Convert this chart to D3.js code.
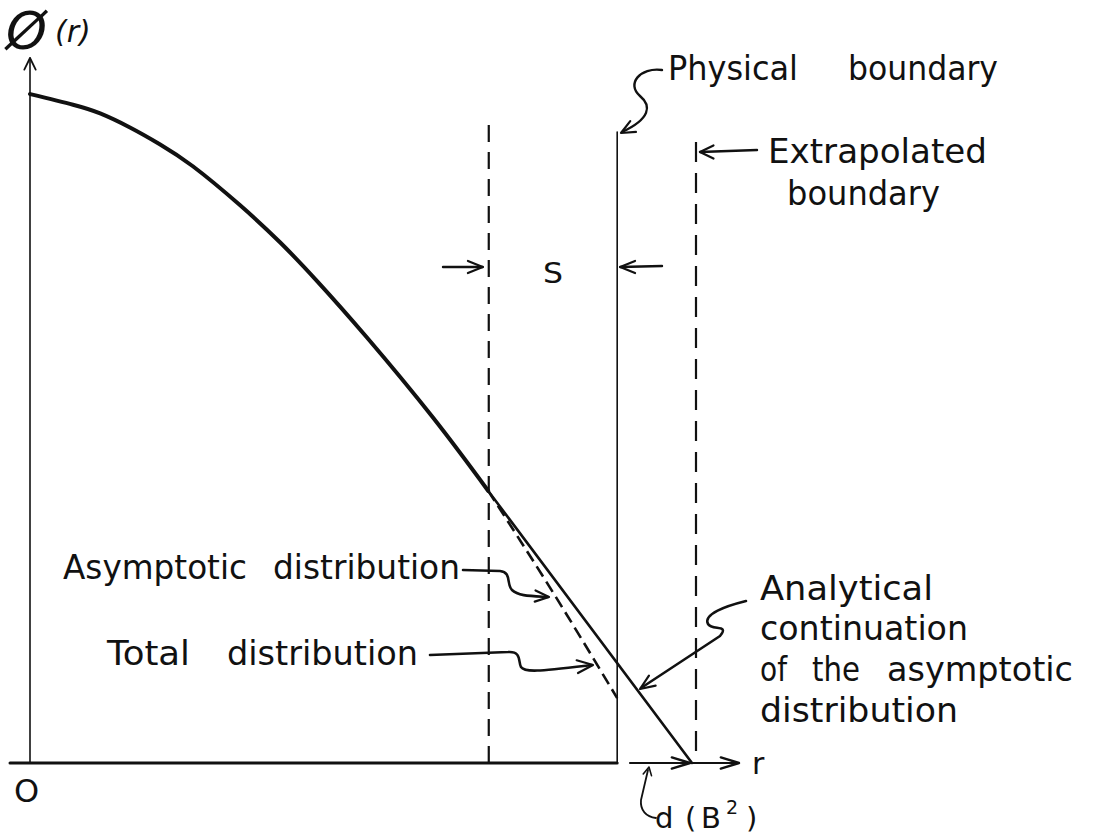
<!DOCTYPE html>
<html>
<head>
<meta charset="utf-8">
<script src="https://cdn.jsdelivr.net/npm/d3@7"></script>
<style>
  html, body { margin: 0; padding: 0; background: #fff; }
  svg { display: block; }
  text { font-family: "DejaVu Sans", sans-serif; fill: #111; }
</style>
</head>
<body>
<svg id="chart" width="1093" height="840"></svg>
<script>
// Flux shape phi(r) near a reactor boundary (normalised units, r = 1 at the extrapolated boundary)
const rCore   = [0, 0.065, 0.106, 0.151, 0.196, 0.246, 0.317, 0.378, 0.434, 0.509, 0.609, 0.692];
const phiCore = [1.0, 0.984, 0.971, 0.950, 0.925, 0.892, 0.834, 0.778, 0.720, 0.636, 0.516, 0.407];

// Asymptotic distribution continued analytically to zero at the extrapolated boundary
const rAsym   = [0.692, 1.0];
const phiAsym = [0.407, 0.0];

// Total distribution (asymptotic + transient) inside the transport layer S
const rTotal   = [0.692, 0.790, 0.887];
const phiTotal = [0.407, 0.255, 0.097];

// Radial positions of the boundaries
const rSLayer   = 0.693;   // inner edge of the transport layer S
const rPhysical = 0.887;   // physical boundary
const rExtrap   = 1.0;     // extrapolated boundary

const svg = d3.select("#chart");
const ink = "#111";

const x = d3.scaleLinear().domain([0, 1]).range([30, 692]);
const y = d3.scaleLinear().domain([0, 1]).range([763, 94]);

const line = d3.line().x(d => x(d[0])).y(d => y(d[1]));
const smooth = d3.line().x(d => x(d[0])).y(d => y(d[1])).curve(d3.curveNatural);

// open "V" arrowhead at a tip, pointing along angle (degrees)
function head(tx, ty, angle, len = 14, spread = 24, width = 2.2) {
  const a = angle * Math.PI / 180, s = spread * Math.PI / 180;
  const p1 = [tx - len * Math.cos(a - s), ty - len * Math.sin(a - s)];
  const p2 = [tx - len * Math.cos(a + s), ty - len * Math.sin(a + s)];
  svg.append("path")
    .attr("d", `M${p1[0]},${p1[1]} L${tx},${ty} L${p2[0]},${p2[1]}`)
    .attr("fill", "none").attr("stroke", ink).attr("stroke-width", width)
    .attr("stroke-linecap", "round").attr("stroke-linejoin", "round");
}
function stroke(d, width, dash) {
  const p = svg.append("path").attr("d", d).attr("fill", "none")
    .attr("stroke", ink).attr("stroke-width", width)
    .attr("stroke-linecap", "round").attr("stroke-linejoin", "round");
  if (dash) p.attr("stroke-dasharray", dash).attr("stroke-linecap", "butt");
  return p;
}

// ---- axes ----
stroke(`M${x(0)},${y(0)} L${x(0)},58`, 1.6);
head(x(0), 58, -90, 13, 26, 1.8);
stroke(`M10,${y(0)} L${x(rPhysical)},${y(0)}`, 3);
// r-axis beyond the physical boundary: d(B^2) span and r arrow
stroke(`M630,${y(0)} L${x(rExtrap) - 2},${y(0)}`, 2.2);
head(x(rExtrap) - 2, y(0), 0, 19, 17, 2.4);
stroke(`M${x(rExtrap)},${y(0)} L738,${y(0)}`, 2.2);
head(739, y(0), 0, 19, 17, 2.4);

// ---- boundaries ----
stroke(`M${x(rSLayer)},125 L${x(rSLayer)},${y(0)}`, 2.2, "17,10");
stroke(`M${x(rPhysical)},132 L${x(rPhysical)},${y(0)}`, 1.6);
stroke(`M${x(rExtrap) + 4},142 L${x(rExtrap) + 4},${y(0)}`, 2.2, "20,11");

// ---- flux curves ----
stroke(smooth(rCore.map((r, i) => [r, phiCore[i]])), 4);
stroke(line(rAsym.map((r, i) => [r, phiAsym[i]])), 2.6);
stroke(smooth(rTotal.map((r, i) => [r, phiTotal[i]])), 2.6, "12,6");

// ---- labels ----
const labels = [
  { t: "Physical",     x: 668, y: 80,  w: 130 },
  { t: "boundary",     x: 848, y: 80,  w: 150 },
  { t: "Extrapolated", x: 768, y: 163, w: 219 },
  { t: "boundary",     x: 787, y: 205, w: 153 },
  { t: "Asymptotic",   x: 63,  y: 579, w: 184 },
  { t: "distribution", x: 273, y: 579, w: 187 },
  { t: "Total",        x: 107, y: 665, w: 83 },
  { t: "distribution", x: 227, y: 665, w: 191 },
  { t: "Analytical",   x: 760, y: 600, w: 173 },
  { t: "continuation", x: 760, y: 640, w: 208 },
  { t: "of",           x: 760, y: 681, w: 27 },
  { t: "the",          x: 812, y: 681, w: 48 },
  { t: "asymptotic",   x: 887, y: 681, w: 186 },
  { t: "distribution", x: 760, y: 722, w: 198 }
];
svg.selectAll("text.lbl").data(labels).join("text")
  .attr("class", "lbl")
  .attr("x", d => d.x).attr("y", d => d.y)
  .attr("font-size", 33)
  .attr("textLength", d => d.w).attr("lengthAdjust", "spacingAndGlyphs")
  .text(d => d.t);

svg.append("text").attr("x", 543).attr("y", 283).attr("font-size", 28)
  .attr("textLength", 20).attr("lengthAdjust", "spacingAndGlyphs").text("S");
svg.append("text").attr("x", 14).attr("y", 802).attr("font-size", 32).text("O");
svg.append("text").attr("x", 752).attr("y", 774).attr("font-size", 30).text("r");

// d(B^2)
const dB = svg.append("text").attr("x", 655).attr("y", 828).attr("font-size", 29);
dB.append("tspan").text("d");
dB.append("tspan").attr("x", 685).text("(");
dB.append("tspan").attr("x", 701).text("B");
dB.append("tspan").attr("x", 726).attr("y", 814).attr("font-size", 19).text("2");
dB.append("tspan").attr("x", 746).attr("y", 828).text(")");

// phi(r) axis title
const phi = svg.append("text").attr("x", 6).attr("y", 49).attr("font-style", "italic");
phi.append("tspan").attr("font-size", 52).text("Ø");
phi.append("tspan").attr("x", 55).attr("y", 42).attr("font-size", 30).text("(r)");

// ---- S layer arrows ----
stroke(`M443,267 L${x(rSLayer) - 6},267`, 2.4);
head(x(rSLayer) - 6, 267, 0, 16, 22, 2.2);
stroke(`M662,266 L${x(rPhysical) + 3},267`, 2.4);
head(x(rPhysical) + 3, 267, 180, 16, 22, 2.2);

// ---- annotation leaders ----
stroke("M662,70 C640,67 626,84 640,96 C652,106 650,119 622,132", 2.4);
head(621, 133, 152, 15, 24);

stroke(`M757,150 L${x(rExtrap) + 8},152`, 2.4);
head(x(rExtrap) + 8, 152, 180, 15, 26);

stroke("M463,570 L500,571 C512,572 506,584 512,590 C518,596 530,596 548,597", 2.6);
head(549, 597, 4, 15, 22);

stroke("M430,655 L508,652 C522,651 518,662 521,667 C525,673 540,671 592,665", 2.6);
head(593, 665, -6, 17, 22);

stroke("M746,601 C726,606 703,614 708,624 C712,631 730,624 720,636 L641,688", 2.6);
head(640, 689, 146, 16, 22);

stroke("M656,818 C646,817 640,810 641,800 L648,770", 1.8);
head(649, 767, -78, 9, 28, 1.6);
</script>
</body>
</html>
